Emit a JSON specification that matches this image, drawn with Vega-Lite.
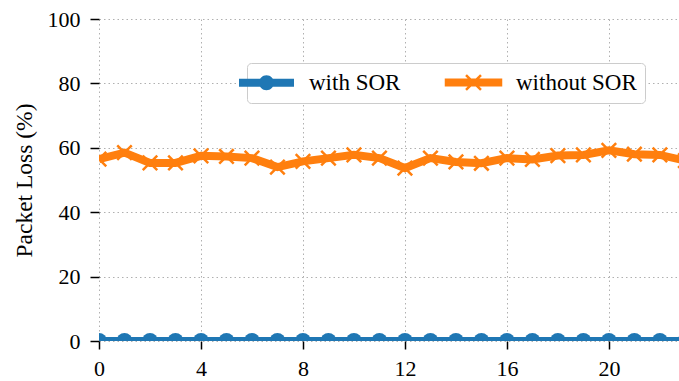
{
  "$schema": "https://vega.github.io/schema/vega-lite/v6.json",
  "width": 580,
  "height": 322,
  "autosize": {"type": "none"},
  "padding": {"left": 99, "top": 19, "right": 0, "bottom": 40},
  "background": "white",
  "config": {
    "view": {"stroke": null},
    "font": "Liberation Serif",
    "axis": {
      "domain": false,
      "tickColor": "black",
      "tickWidth": 1.5,
      "tickSize": 9,
      "labelFont": "Liberation Serif",
      "labelFontSize": 22,
      "labelColor": "black",
      "titleFont": "Liberation Serif",
      "titleFontSize": 23.5,
      "titleFontWeight": "normal",
      "titleColor": "black",
      "gridColor": "#b0b0b0",
      "gridDash": [1.5, 3],
      "gridWidth": 1
    }
  },
  "datasets": {
    "loss": [
      {"series": "with SOR", "x": 0, "loss": 0}, {"series": "with SOR", "x": 1, "loss": 0},
      {"series": "with SOR", "x": 2, "loss": 0}, {"series": "with SOR", "x": 3, "loss": 0},
      {"series": "with SOR", "x": 4, "loss": 0}, {"series": "with SOR", "x": 5, "loss": 0},
      {"series": "with SOR", "x": 6, "loss": 0}, {"series": "with SOR", "x": 7, "loss": 0},
      {"series": "with SOR", "x": 8, "loss": 0}, {"series": "with SOR", "x": 9, "loss": 0},
      {"series": "with SOR", "x": 10, "loss": 0}, {"series": "with SOR", "x": 11, "loss": 0},
      {"series": "with SOR", "x": 12, "loss": 0}, {"series": "with SOR", "x": 13, "loss": 0},
      {"series": "with SOR", "x": 14, "loss": 0}, {"series": "with SOR", "x": 15, "loss": 0},
      {"series": "with SOR", "x": 16, "loss": 0}, {"series": "with SOR", "x": 17, "loss": 0},
      {"series": "with SOR", "x": 18, "loss": 0}, {"series": "with SOR", "x": 19, "loss": 0},
      {"series": "with SOR", "x": 20, "loss": 0}, {"series": "with SOR", "x": 21, "loss": 0},
      {"series": "with SOR", "x": 22, "loss": 0}, {"series": "with SOR", "x": 23, "loss": 0},
      {"series": "without SOR", "x": 0, "loss": 56.5}, {"series": "without SOR", "x": 1, "loss": 58.5},
      {"series": "without SOR", "x": 2, "loss": 55.3}, {"series": "without SOR", "x": 3, "loss": 55.3},
      {"series": "without SOR", "x": 4, "loss": 57.5}, {"series": "without SOR", "x": 5, "loss": 57.3},
      {"series": "without SOR", "x": 6, "loss": 56.8}, {"series": "without SOR", "x": 7, "loss": 54.0},
      {"series": "without SOR", "x": 8, "loss": 55.8}, {"series": "without SOR", "x": 9, "loss": 56.8},
      {"series": "without SOR", "x": 10, "loss": 57.8}, {"series": "without SOR", "x": 11, "loss": 56.8},
      {"series": "without SOR", "x": 12, "loss": 53.7}, {"series": "without SOR", "x": 13, "loss": 56.8},
      {"series": "without SOR", "x": 14, "loss": 55.6}, {"series": "without SOR", "x": 15, "loss": 55.2},
      {"series": "without SOR", "x": 16, "loss": 56.8}, {"series": "without SOR", "x": 17, "loss": 56.4},
      {"series": "without SOR", "x": 18, "loss": 57.6}, {"series": "without SOR", "x": 19, "loss": 57.8},
      {"series": "without SOR", "x": 20, "loss": 59.2}, {"series": "without SOR", "x": 21, "loss": 58.0},
      {"series": "without SOR", "x": 22, "loss": 57.8}, {"series": "without SOR", "x": 23, "loss": 56.0}
    ]
  },
  "data": {"name": "loss"},
  "encoding": {
    "x": {
      "field": "x", "type": "quantitative",
      "scale": {"domain": [0, 22.75], "nice": false, "zero": false},
      "axis": {"values": [0, 4, 8, 12, 16, 20], "title": null, "labelFlush": false, "labelPadding": 9, "tickSize": 8}
    },
    "y": {
      "field": "loss", "type": "quantitative",
      "scale": {"domain": [0, 100], "nice": false},
      "axis": {"values": [0, 20, 40, 60, 80, 100], "title": "Packet Loss (%)", "labelPadding": 10, "titlePadding": 11}
    }
  },
  "layer": [
    {
      "mark": {"type": "line", "strokeWidth": 8, "clip": true},
      "encoding": {
        "color": {
          "field": "series", "type": "nominal",
          "scale": {"domain": ["with SOR", "without SOR"], "range": ["#1f77b4", "#ff7f0e"]},
          "legend": {
            "orient": "none", "legendX": 148, "legendY": 44,
            "direction": "horizontal", "title": null,
            "symbolSize": 12100,
            "labelFont": "Liberation Serif", "labelFontSize": 23, "labelColor": "black",
            "labelOffset": 31, "columnPadding": 40,
            "padding": 8, "strokeColor": "#cccccc", "fillColor": "white", "cornerRadius": 4,
            "encode": {
              "symbols": {
                "update": {
                  "shape": {"signal": "datum.value === 'with SOR' ? 'M-0.5,-0.073L0.5,-0.073L0.5,0.073L-0.5,0.073Z M0.136,0 A0.136,0.136 0 1,1 -0.136,0 A0.136,0.136 0 1,1 0.136,0 Z' : 'M-0.5,-0.05L0.5,-0.05L0.5,0.05L-0.5,0.05Z M-0.136,-0.136L0.136,0.136 M-0.136,0.136L0.136,-0.136'"},
                  "fill": {"signal": "datum.value === 'with SOR' ? '#1f77b4' : '#ff7f0e'"},
                  "stroke": {"signal": "datum.value === 'with SOR' ? '#1f77b4' : '#ff7f0e'"},
                  "strokeWidth": {"signal": "datum.value === 'with SOR' ? 0 : 2.5"},
                  "fillOpacity": {"value": 1},
                  "opacity": {"value": 1}
                }
              }
            }
          }
        }
      }
    },
    {
      "transform": [{"filter": "datum.series === 'with SOR'"}],
      "mark": {"type": "point", "shape": "circle", "filled": true, "size": 256, "color": "#1f77b4", "opacity": 1, "clip": true}
    },
    {
      "transform": [{"filter": "datum.series === 'without SOR'"}],
      "mark": {"type": "point", "shape": "M-1,-1L1,1M-1,1L1,-1", "filled": false, "size": 210, "strokeWidth": 2.5, "color": "#ff7f0e", "opacity": 1, "clip": true}
    }
  ]
}
